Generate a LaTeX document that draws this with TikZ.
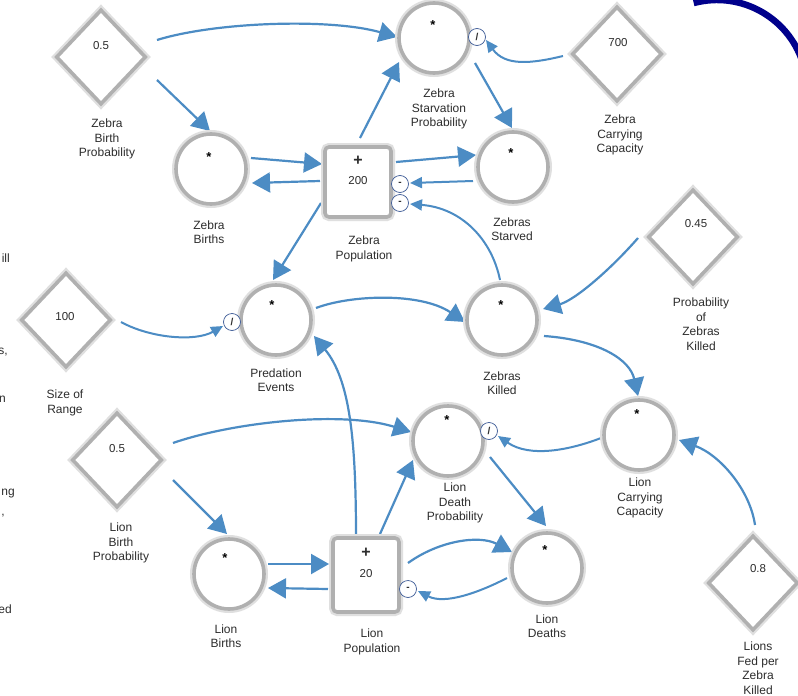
\documentclass[tikz,border=0pt]{standalone}
\usepackage{fontspec}
\setmainfont{Liberation Sans}
\usetikzlibrary{arrows.meta,shapes.geometric}
\pgfdeclarelayer{bg}
\pgfsetlayers{bg,main}
\definecolor{abl}{RGB}{76,140,196}
\definecolor{opb}{RGB}{60,90,150}
\definecolor{txt}{RGB}{45,45,45}
\definecolor{navyarc}{RGB}{0,0,140}
\begin{document}
\begin{tikzpicture}[x=1pt,y=-1pt,
  lbl/.style={font=\fontsize{12}{14.5}\selectfont, text=txt, align=center, inner sep=0pt},
  val/.style={font=\fontsize{11.5}{12}\selectfont, text=txt, inner sep=0pt},
  star/.style={font=\bfseries\fontsize{13}{13}\selectfont, inner sep=0pt},
  plus/.style={font=\bfseries\fontsize{16}{16}\selectfont, text=txt, inner sep=0pt},
  ring/.style={preaction={draw=gray!25, line width=8pt}, draw=gray!62, line width=3.6pt, fill=white},
  circ/.style={circle, ring, minimum size=70pt, inner sep=0pt},
  dia/.style={diamond, ring, minimum width=90pt, minimum height=95pt, inner sep=0pt},
  stock/.style={rectangle, rounded corners=4pt, ring, minimum width=66pt, minimum height=70pt, inner sep=0pt},
  op/.style={circle, draw=opb, line width=0.7pt, fill=white, minimum size=17pt, inner sep=0pt, font=\bfseries\fontsize{10}{10}\selectfont, text=txt},
  link/.style={draw=abl, line width=2.2pt, -{Triangle[length=18pt,width=20pt]}},
  olink/.style={draw=abl, line width=2pt, -{Triangle[length=12pt,width=11pt]}},
  frag/.style={font=\fontsize{12}{14.5}\selectfont, text=txt, anchor=east, inner sep=0pt},
]
\useasboundingbox (0,0) rectangle (798,696);

% navy arc
\draw[navyarc, line width=6.5pt] (717,90) ++(255:90) arc[start angle=255, end angle=345, radius=90];

% left-edge text fragments
\node[frag] (f1) at (10,258) {ill};
\node[frag] (f2) at (8,352) {s,};
\node[frag] (f3) at (6,399) {n};
\node[frag] (f4) at (15,494) {ng};
\node[frag] (f5) at (5,516) {,};
\node[frag] (f6) at (12,609) {ed};

% diamonds (constants)
\node[dia] (zbp) at (101,57) {};
\node[val] (zbpv) at (101,46) {0.5};
\node[lbl] (zbpl) at (107,139) {Zebra\\Birth\\Probability};

\node[dia] (zcc) at (617,54) {};
\node[val] (zccv) at (618,43) {700};
\node[lbl] (zccl) at (620,135) {Zebra\\Carrying\\Capacity};

\node[dia] (pzk) at (693,237) {};
\node[val] (pzkv) at (696,224) {0.45};
\node[lbl] (pzkl) at (701,324) {Probability\\of\\Zebras\\Killed};

\node[dia] (sor) at (66,320) {};
\node[val] (sorv) at (65,317) {100};
\node[lbl] (sorl) at (65,403) {Size of\\Range};

\node[dia] (lbp) at (117,460) {};
\node[val] (lbpv) at (117,449) {0.5};
\node[lbl] (lbpl) at (121,543) {Lion\\Birth\\Probability};

\node[dia] (lfz) at (753,583) {};
\node[val] (lfzv) at (758,569) {0.8};
\node[lbl] (lfzl) at (758,668) {Lions\\Fed per\\Zebra\\Killed};

% circles (variables)
\node[circ] (zsp) at (434,38) {};
\node[star] (zsps) at (433,25) {*};
\node[lbl] (zspl) at (439,109) {Zebra\\Starvation\\Probability};

\node[circ] (zb) at (211,169) {};
\node[star] (zbs) at (209,157) {*};
\node[lbl] (zbl) at (209,232) {Zebra\\Births};

\node[circ] (zs) at (513,167) {};
\node[star] (zss) at (511,153) {*};
\node[lbl] (zsl) at (512,229) {Zebras\\Starved};

\node[circ] (pe) at (276,320) {};
\node[star] (pes) at (272,305) {*};
\node[lbl] (pel) at (276,380) {Predation\\Events};

\node[circ] (zk) at (502,320) {};
\node[star] (zks) at (501,305) {*};
\node[lbl] (zkl) at (502,383) {Zebras\\Killed};

\node[circ] (lcc) at (639,435) {};
\node[star] (lccs) at (637,414) {*};
\node[lbl] (lccl) at (640,498) {Lion\\Carrying\\Capacity};

\node[circ] (ldp) at (448,441) {};
\node[star] (ldps) at (447,420) {*};
\node[lbl] (ldpl) at (455,503) {Lion\\Death\\Probability};

\node[circ] (lb) at (229,574) {};
\node[star] (lbs) at (225,558) {*};
\node[lbl] (lbl) at (226,636) {Lion\\Births};

\node[circ] (ld) at (547,568) {};
\node[star] (lds) at (545,550) {*};
\node[lbl] (ldl) at (547,626) {Lion\\Deaths};

% stocks
\node[stock] (zp) at (358,182) {};
\node[plus] (zpp) at (358,161) {+};
\node[val] (zpv) at (358,181) {200};
\node[lbl] (zpl) at (364,249) {Zebra\\Population};

\node[stock, minimum height=74pt] (lp) at (366,575) {};
\node[plus] (lpp) at (366,553) {+};
\node[val] (lpv) at (366,574) {20};
\node[lbl] (lpl) at (372,642) {Lion\\Population};

% operator badges
\node[op] (opzsp) at (477,37) {/};
\node[op] (oppe) at (232,322) {/};
\node[op] (opldp) at (489,431) {/};
\node[op] (opzp1) at (400,184) {-};
\node[op] (opzp2) at (400,203) {-};
\node[op] (oplp) at (408,589) {-};

\begin{pgfonlayer}{bg}
\fill[white] (0,0) rectangle (798,696);
\draw[link] ([shift={(56,-17)}]zbp.center) .. controls (215,22) and (330,18) .. ([shift={(-37,-1)}]zsp.center);
\draw[link] ([shift={(56,23)}]zbp.center) -- ([shift={(-1,-38)}]zb.center);
\draw[link] ([shift={(40,-11)}]zb.center) -- ([shift={(-36,-18)}]zp.center);
\draw[link] ([shift={(-38,-1)}]zp.center) -- ([shift={(41,14)}]zb.center);
\draw[link] ([shift={(2,-44)}]zp.center) -- ([shift={(-35,24)}]zsp.center);
\draw[link] ([shift={(38,-20)}]zp.center) -- ([shift={(-37,-12)}]zs.center);
\draw[olink] ([shift={(-40,14)}]zs.center) -- ([shift={(10,-1)}]opzp1.center);
\draw[olink] ([shift={(-2,-40)}]zk.center) .. controls (492,240) and (462,208) .. ([shift={(10,1)}]opzp2.center);
\draw[link] ([shift={(41,25)}]zsp.center) -- ([shift={(-1,-39)}]zs.center);
\draw[olink] ([shift={(-54,2)}]zcc.center) .. controls (530,64) and (505,66) .. ([shift={(9,3)}]opzsp.center);
\draw[link] ([shift={(-37,21)}]zp.center) -- ([shift={(-3,-40)}]pe.center);
\draw[olink] ([shift={(55,2)}]sor.center) .. controls (150,338) and (195,342) .. ([shift={(-9,4)}]oppe.center);
\draw[link] ([shift={(40,-12)}]pe.center) .. controls (350,295) and (420,292) .. ([shift={(-37,2)}]zk.center);
\draw[link] ([shift={(-10,-38)}]lp.center) .. controls (356,440) and (350,380) .. ([shift={(38,16)}]pe.center);
\draw[link] ([shift={(-55,1)}]pzk.center) .. controls (610,270) and (575,300) .. ([shift={(41,-11)}]zk.center);
\draw[link] ([shift={(42,16)}]zk.center) .. controls (600,340) and (630,360) .. ([shift={(-1,-39)}]lcc.center);
\draw[link] ([shift={(56,-17)}]lbp.center) .. controls (230,423) and (340,410) .. ([shift={(-37,-9)}]ldp.center);
\draw[link] ([shift={(56,20)}]lbp.center) -- ([shift={(-2,-40)}]lb.center);
\draw[link] ([shift={(39,-10)}]lb.center) -- ([shift={(-37,-11)}]lp.center);
\draw[link] ([shift={(-38,14)}]lp.center) -- ([shift={(39,14)}]lb.center);
\draw[link] ([shift={(14,-41)}]lp.center) -- ([shift={(-35,19)}]ldp.center);
\draw[link] ([shift={(42,-12)}]lp.center) .. controls (440,540) and (480,535) .. ([shift={(-35,-16)}]ld.center);
\draw[olink] ([shift={(-40,10)}]ld.center) .. controls (480,592) and (445,605) .. ([shift={(10,2)}]oplp.center);
\draw[link] ([shift={(42,16)}]ldp.center) -- ([shift={(-1,-42)}]ld.center);
\draw[olink] ([shift={(-38,3)}]lcc.center) .. controls (570,450) and (530,458) .. ([shift={(9,5)}]opldp.center);
\draw[link] ([shift={(2,-58)}]lfz.center) .. controls (750,490) and (720,455) .. ([shift={(40,5)}]lcc.center);
\end{pgfonlayer}
\end{tikzpicture}
\end{document}
